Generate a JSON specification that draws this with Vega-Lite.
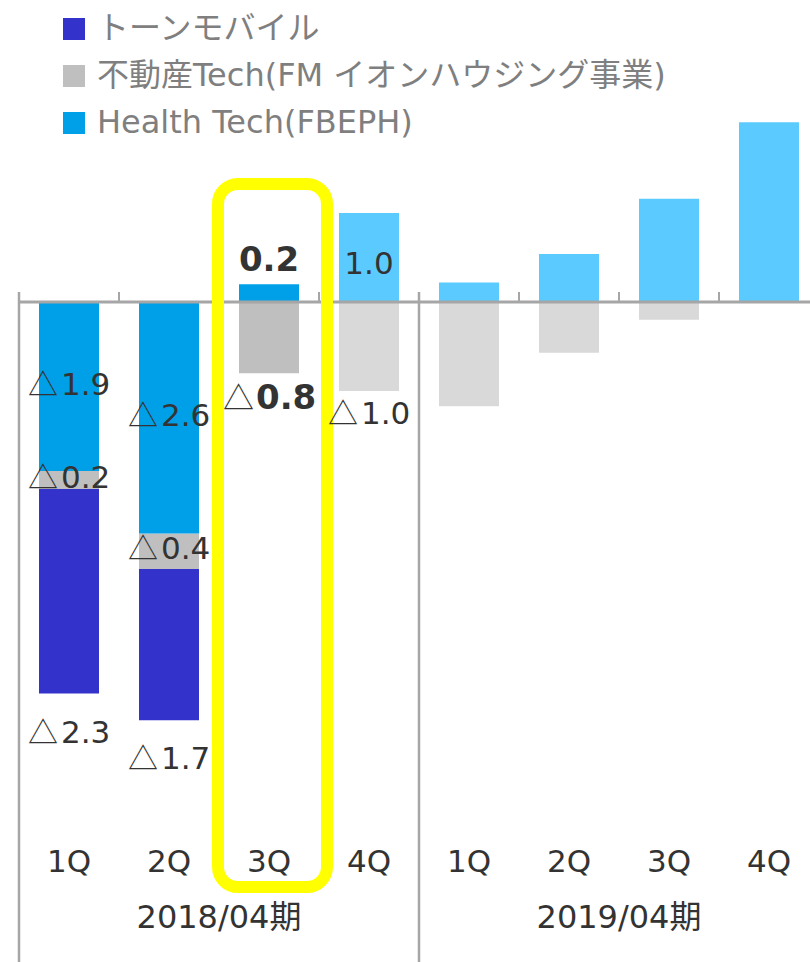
{
  "$schema": "https://vega.github.io/schema/vega-lite/v6.json",
  "width": 791,
  "height": 962,
  "autosize": {"type": "none"},
  "padding": {"left": 19, "top": 0, "right": 0, "bottom": 0},
  "background": "white",
  "config": {"view": {"stroke": null}},
  "datasets": {
    "pl": [
      {"q": "2018-1Q", "seg": "トーンモバイル", "value": -2.3, "status": "actual"},
      {"q": "2018-1Q", "seg": "不動産Tech(FM イオンハウジング事業)", "value": -0.2, "status": "actual"},
      {"q": "2018-1Q", "seg": "Health Tech(FBEPH)", "value": -1.9, "status": "actual"},
      {"q": "2018-2Q", "seg": "トーンモバイル", "value": -1.7, "status": "actual"},
      {"q": "2018-2Q", "seg": "不動産Tech(FM イオンハウジング事業)", "value": -0.4, "status": "actual"},
      {"q": "2018-2Q", "seg": "Health Tech(FBEPH)", "value": -2.6, "status": "actual"},
      {"q": "2018-3Q", "seg": "不動産Tech(FM イオンハウジング事業)", "value": -0.8, "status": "actual"},
      {"q": "2018-3Q", "seg": "Health Tech(FBEPH)", "value": 0.2, "status": "actual"},
      {"q": "2018-4Q", "seg": "不動産Tech(FM イオンハウジング事業)", "value": -1.0, "status": "forecast"},
      {"q": "2018-4Q", "seg": "Health Tech(FBEPH)", "value": 1.0, "status": "forecast"},
      {"q": "2019-1Q", "seg": "不動産Tech(FM イオンハウジング事業)", "value": -1.17, "status": "forecast"},
      {"q": "2019-1Q", "seg": "Health Tech(FBEPH)", "value": 0.22, "status": "forecast"},
      {"q": "2019-2Q", "seg": "不動産Tech(FM イオンハウジング事業)", "value": -0.57, "status": "forecast"},
      {"q": "2019-2Q", "seg": "Health Tech(FBEPH)", "value": 0.54, "status": "forecast"},
      {"q": "2019-3Q", "seg": "不動産Tech(FM イオンハウジング事業)", "value": -0.2, "status": "forecast"},
      {"q": "2019-3Q", "seg": "Health Tech(FBEPH)", "value": 1.16, "status": "forecast"},
      {"q": "2019-4Q", "seg": "Health Tech(FBEPH)", "value": 2.02, "status": "forecast"}
    ],
    "years": [
      {"q": "2018-2Q", "year": "2018/04期"},
      {"q": "2019-2Q", "year": "2019/04期"}
    ]
  },
  "data": {"name": "pl"},
  "transform": [
    {"calculate": "datum.seg === 'Health Tech(FBEPH)' ? 0 : (datum.seg === 'トーンモバイル' ? 2 : 1)", "as": "ord"},
    {"stack": "value", "groupby": ["q"], "sort": [{"field": "ord", "order": "ascending"}], "as": ["v0", "v1"], "offset": "zero"},
    {"calculate": "(datum.v0 + datum.v1) / 2", "as": "mid"},
    {"calculate": "format(abs(datum.value), '.1f')", "as": "num"},
    {"calculate": "datum.value < 0 ? '△' : ''", "as": "tri"}
  ],
  "resolve": {"scale": {"color": "independent"}, "legend": {"color": "independent"}},
  "layer": [
    {
      "transform": [{"filter": "datum.status === 'actual'"}],
      "mark": {"type": "bar", "width": {"band": 0.6}},
      "encoding": {
        "x": {
          "field": "q", "type": "nominal",
          "scale": {"range": [0, 800], "paddingInner": 0, "paddingOuter": 0},
          "axis": {
            "orient": "bottom", "offset": -100, "domain": false, "ticks": false, "tickSize": 0,
            "labelPadding": 0, "labelBaseline": "middle", "labelFontSize": 31, "labelColor": "#333333",
            "labelFont": "DejaVu Sans, Noto Sans CJK JP, sans-serif", "labelAngle": 0,
            "labelExpr": "split(datum.label, '-')[1]", "title": null, "grid": false
          }
        },
        "y": {"field": "v1", "type": "quantitative", "scale": {"domain": [-7.4157, 3.3933], "nice": false, "zero": false}, "axis": null},
        "y2": {"field": "v0"},
        "color": {
          "field": "seg", "type": "nominal",
          "scale": {"domain": ["トーンモバイル", "不動産Tech(FM イオンハウジング事業)", "Health Tech(FBEPH)"], "range": ["#3333CC", "#BFBFBF", "#00A0E9"]},
          "legend": {
            "title": null, "orient": "none", "legendX": 39, "legendY": 13, "direction": "vertical",
            "symbolType": "square", "symbolSize": 484, "symbolStrokeWidth": 0,
            "labelFontSize": 32, "labelColor": "#7F7F7F", "labelFont": "DejaVu Sans, Noto Sans CJK JP, sans-serif",
            "labelBaseline": "middle",
            "labelLimit": 1000, "rowPadding": 15, "labelOffset": 7, "padding": 0
          }
        }
      }
    },
    {
      "transform": [{"filter": "datum.status === 'forecast'"}],
      "mark": {"type": "bar", "width": {"band": 0.6}},
      "encoding": {
        "x": {"field": "q", "type": "nominal"},
        "y": {"field": "v1", "type": "quantitative"},
        "y2": {"field": "v0"},
        "color": {
          "field": "seg", "type": "nominal",
          "scale": {"domain": ["トーンモバイル", "不動産Tech(FM イオンハウジング事業)", "Health Tech(FBEPH)"], "range": ["#3333CC", "#D9D9D9", "#5BCBFF"]},
          "legend": null
        }
      }
    },
    {
      "data": {"values": [{}]},
      "mark": {"type": "rule", "color": "#A6A6A6", "strokeWidth": 3},
      "encoding": {"y": {"datum": 0, "type": "quantitative"}}
    },
    {
      "transform": [{"filter": "datum.seg === 'Health Tech(FBEPH)'"}],
      "mark": {"type": "rule", "color": "#A6A6A6", "strokeWidth": 2},
      "encoding": {
        "x": {"field": "q", "type": "nominal", "bandPosition": 0},
        "y": {"datum": 0.112, "type": "quantitative"},
        "y2": {"datum": 0}
      }
    },
    {
      "transform": [{"filter": "datum.seg === 'Health Tech(FBEPH)' && (datum.q === '2018-1Q' || datum.q === '2019-1Q')"}],
      "mark": {"type": "rule", "color": "#A6A6A6", "strokeWidth": 2.5},
      "encoding": {
        "x": {"field": "q", "type": "nominal", "bandPosition": 0},
        "y": {"datum": 0.112, "type": "quantitative"},
        "y2": {"datum": -7.4157}
      }
    },
    {
      "data": {"values": [{"q": "2018-3Q"}]},
      "mark": {"type": "bar", "filled": false, "color": "#FFFF00", "strokeWidth": 12, "cornerRadius": 20, "width": {"band": 1.09}, "xOffset": 3.5},
      "encoding": {
        "x": {"field": "q", "type": "nominal"},
        "y": {"datum": 1.326, "type": "quantitative"},
        "y2": {"datum": -6.573}
      }
    },
    {
      "transform": [{"filter": "(datum.q === '2018-1Q' || datum.q === '2018-2Q') && datum.seg !== 'トーンモバイル'"}],
      "mark": {"type": "text", "fontSize": 31, "color": "#333333", "font": "DejaVu Sans, Noto Sans CJK JP, sans-serif", "baseline": "middle", "align": "left", "dx": -8, "dy": -1},
      "encoding": {"x": {"field": "q", "type": "nominal"}, "y": {"field": "mid", "type": "quantitative"}, "text": {"field": "num"}}
    },
    {
      "transform": [{"filter": "(datum.q === '2018-1Q' || datum.q === '2018-2Q') && datum.seg !== 'トーンモバイル'"}],
      "mark": {"type": "text", "fontSize": 30, "color": "#333333", "font": "Noto Sans CJK JP, sans-serif", "baseline": "middle", "align": "right", "dx": -11, "dy": -1},
      "encoding": {"x": {"field": "q", "type": "nominal"}, "y": {"field": "mid", "type": "quantitative"}, "text": {"field": "tri"}}
    },
    {
      "transform": [{"filter": "datum.q === '2018-4Q' && datum.value > 0"}],
      "mark": {"type": "text", "fontSize": 31, "color": "#333333", "font": "DejaVu Sans, Noto Sans CJK JP, sans-serif", "baseline": "middle", "dy": 7},
      "encoding": {"x": {"field": "q", "type": "nominal"}, "y": {"field": "mid", "type": "quantitative"}, "text": {"field": "num"}}
    },
    {
      "transform": [{"filter": "datum.seg === 'トーンモバイル'"}],
      "mark": {"type": "text", "fontSize": 31, "color": "#333333", "font": "DejaVu Sans, Noto Sans CJK JP, sans-serif", "baseline": "middle", "align": "left", "dx": -8, "dy": 40},
      "encoding": {"x": {"field": "q", "type": "nominal"}, "y": {"field": "v1", "type": "quantitative"}, "text": {"field": "num"}}
    },
    {
      "transform": [{"filter": "datum.seg === 'トーンモバイル'"}],
      "mark": {"type": "text", "fontSize": 30, "color": "#333333", "font": "Noto Sans CJK JP, sans-serif", "baseline": "middle", "align": "right", "dx": -11, "dy": 40},
      "encoding": {"x": {"field": "q", "type": "nominal"}, "y": {"field": "v1", "type": "quantitative"}, "text": {"field": "tri"}}
    },
    {
      "transform": [{"filter": "datum.q === '2018-4Q' && datum.value < 0"}],
      "mark": {"type": "text", "fontSize": 31, "color": "#333333", "font": "DejaVu Sans, Noto Sans CJK JP, sans-serif", "baseline": "middle", "align": "left", "dx": -8, "dy": 24},
      "encoding": {"x": {"field": "q", "type": "nominal"}, "y": {"field": "v1", "type": "quantitative"}, "text": {"field": "num"}}
    },
    {
      "transform": [{"filter": "datum.q === '2018-4Q' && datum.value < 0"}],
      "mark": {"type": "text", "fontSize": 30, "color": "#333333", "font": "Noto Sans CJK JP, sans-serif", "baseline": "middle", "align": "right", "dx": -11, "dy": 24},
      "encoding": {"x": {"field": "q", "type": "nominal"}, "y": {"field": "v1", "type": "quantitative"}, "text": {"field": "tri"}}
    },
    {
      "transform": [{"filter": "datum.q === '2018-3Q' && datum.value > 0"}],
      "mark": {"type": "text", "fontSize": 34, "fontWeight": "bold", "color": "#333333", "font": "DejaVu Sans, Noto Sans CJK JP, sans-serif", "baseline": "middle", "dy": -23},
      "encoding": {"x": {"field": "q", "type": "nominal"}, "y": {"field": "v1", "type": "quantitative"}, "text": {"field": "num"}}
    },
    {
      "transform": [{"filter": "datum.q === '2018-3Q' && datum.value < 0"}],
      "mark": {"type": "text", "fontSize": 34, "fontWeight": "bold", "color": "#333333", "font": "DejaVu Sans, Noto Sans CJK JP, sans-serif", "baseline": "middle", "align": "left", "dx": -13, "dy": 26},
      "encoding": {"x": {"field": "q", "type": "nominal"}, "y": {"field": "v1", "type": "quantitative"}, "text": {"field": "num"}}
    },
    {
      "transform": [{"filter": "datum.q === '2018-3Q' && datum.value < 0"}],
      "mark": {"type": "text", "fontSize": 31, "color": "#333333", "font": "Noto Sans CJK JP, sans-serif", "baseline": "middle", "align": "right", "dx": -15, "dy": 27},
      "encoding": {"x": {"field": "q", "type": "nominal"}, "y": {"field": "v1", "type": "quantitative"}, "text": {"field": "tri"}}
    },
    {
      "data": {"name": "years"},
      "mark": {"type": "text", "fontSize": 32, "color": "#333333", "font": "DejaVu Sans, Noto Sans CJK JP, sans-serif", "baseline": "middle"},
      "encoding": {
        "x": {"field": "q", "type": "nominal", "bandPosition": 1},
        "y": {"datum": -6.92, "type": "quantitative"},
        "text": {"field": "year"}
      }
    }
  ]
}
